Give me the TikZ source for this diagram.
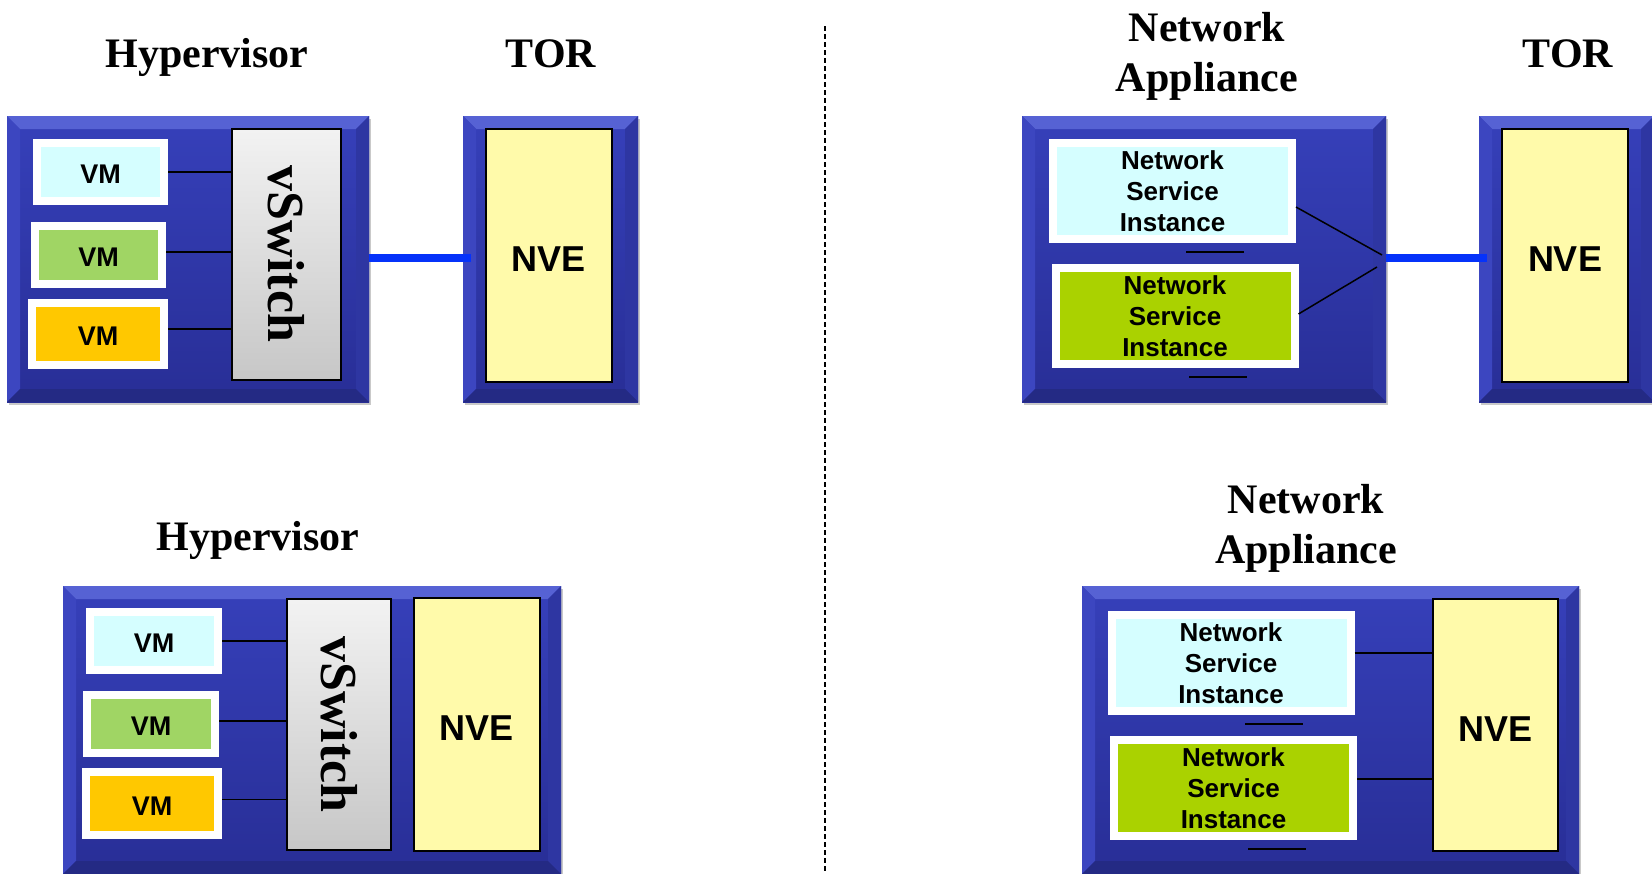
\documentclass[tikz,border=0pt]{standalone}
\usepackage{fontspec}
\setmainfont{Liberation Serif}
\setsansfont{Liberation Sans}
\usepackage{graphicx}
\usetikzlibrary{positioning,shadows,calc}

\definecolor{chassisblue}{RGB}{54,64,186}
\definecolor{chassisdark}{RGB}{40,46,150}
\definecolor{bevtop}{RGB}{86,98,212}
\definecolor{bevleft}{RGB}{60,70,192}
\definecolor{bevright}{RGB}{46,54,162}
\definecolor{bevbottom}{RGB}{36,42,132}
\definecolor{vmcyan}{RGB}{213,254,255}
\definecolor{vmgreen}{RGB}{160,213,100}
\definecolor{vmorange}{RGB}{255,200,0}
\definecolor{nsigreen}{RGB}{170,210,0}
\definecolor{nveyellow}{RGB}{255,250,170}
\definecolor{linkblue}{RGB}{5,50,250}

\tikzset{
  chassis/.style={top color=chassisblue, bottom color=chassisdark, inner sep=0pt,
    drop shadow={shadow xshift=2pt,shadow yshift=-3pt,opacity=0.35,fill=black!60},
    path picture={
      \coordinate (bnw) at (path picture bounding box.north west);
      \coordinate (bne) at (path picture bounding box.north east);
      \coordinate (bsw) at (path picture bounding box.south west);
      \coordinate (bse) at (path picture bounding box.south east);
      \fill[bevtop] (bnw) -- (bne) -- ([shift={(-13pt,-13pt)}]bne) -- ([shift={(13pt,-13pt)}]bnw) -- cycle;
      \fill[bevleft] (bnw) -- ([shift={(13pt,-13pt)}]bnw) -- ([shift={(13pt,13pt)}]bsw) -- (bsw) -- cycle;
      \fill[bevright] (bne) -- ([shift={(-13pt,-13pt)}]bne) -- ([shift={(-13pt,13pt)}]bse) -- (bse) -- cycle;
      \fill[bevbottom] (bsw) -- ([shift={(13pt,13pt)}]bsw) -- ([shift={(-13pt,13pt)}]bse) -- (bse) -- cycle;
    }},
  vm/.style={fill=#1, draw=white, line width=8pt, inner sep=0pt, text height=23pt,
    minimum width=127pt, minimum height=58pt,
    font=\sffamily\bfseries\fontsize{27}{30}\selectfont},
  nsi/.style={fill=#1, draw=white, line width=8pt, inner sep=0pt, align=center,
    minimum width=239pt, minimum height=96pt,
    font=\sffamily\bfseries\fontsize{26}{31}\selectfont},
  nve/.style={fill=nveyellow, draw=black, line width=2pt, inner sep=0pt, text height=32pt,
    minimum width=126pt, minimum height=253pt,
    font=\sffamily\bfseries\fontsize{36}{40}\selectfont},
  vswitch/.style={top color=black!5, bottom color=black!22, draw=black, line width=2pt, inner sep=0pt,
    minimum width=109pt, minimum height=251pt,
    font=\bfseries\fontsize{52}{56}\selectfont},
  title/.style={inner sep=0pt, align=center, font=\bfseries\fontsize{42}{50}\selectfont},
  wire/.style={line width=1.5pt},
  link/.style={linkblue, line width=8pt},
  divider/.style={line width=1.5pt, dash pattern=on 5pt off 3pt}
}

\begin{document}
\begin{tikzpicture}[x=1pt,y=-1pt]
\useasboundingbox[fill=white] (0,0) rectangle (1652,873);

\node[title, anchor=base] (hyptitle1) at (207,67) {Hypervisor};
\node[title, anchor=base] (tortitle1) at (551,67) {TOR};
\node[title, anchor=north] (apptitle1) at (1207,12) {Network\\Appliance};
\node[title, anchor=base] (tortitle2) at (1568,67) {TOR};
\node[title, anchor=base] (hyptitle2) at (258,550) {Hypervisor};
\node[title, anchor=north] (apptitle2) at (1306,484) {Network\\Appliance};

\draw[divider] (825,26) -- (825,873);

\node[chassis, minimum width=362pt, minimum height=286pt] (hyp1) at (188,259) {};
\node[vm=vmcyan] (vm11) at (100.5,172) {VM};
\node[vm=vmgreen] (vm12) at (98.5,255) {VM};
\node[vm=vmorange, minimum width=132pt, minimum height=62pt] (vm13) at (98,334) {VM};
\node[vswitch] (vsw1) at (286.5,254) {\rotatebox{-90}{vSwitch}};
\draw[wire] (vm11.east) -- (vm11.east -| vsw1.west);
\draw[wire] ([yshift=3pt]vm12.east) -- ([yshift=3pt]vm12.east -| vsw1.west);
\draw[wire] ([yshift=5pt]vm13.east) -- ([yshift=5pt]vm13.east -| vsw1.west);

\node[chassis, minimum width=175pt, minimum height=286pt] (tor1) at (550.5,259) {};
\node[nve] (nve1) at (549,255) {NVE};
\draw[link] ([yshift=1pt]hyp1.east) -- ([shift={(8pt,1pt)}]tor1.west);

\node[chassis, minimum width=364pt, minimum height=286pt] (app1) at (1204,259) {};
\node[nsi=vmcyan] (nsi11) at (1172.5,191) {Network\\Service\\Instance};
\node[nsi=nsigreen] (nsi12) at (1175,316) {Network\\Service\\Instance};
\coordinate (fan1) at (1382,255);
\coordinate (fan2) at (1377,267);
\draw[wire] ([yshift=-16pt]nsi11.east) -- (fan1);
\draw[wire] ([yshift=2pt]nsi12.east) -- (fan2);
\draw[wire] (1186,252) -- (1244,252);
\draw[wire] (1189,377) -- (1247,377);

\node[chassis, minimum width=175pt, minimum height=286pt] (tor2) at (1566.5,259) {};
\node[nve] (nve2) at (1565,255.5) {NVE};
\draw[link] ([yshift=1pt]app1.east) -- ([shift={(8pt,1pt)}]tor2.west);

\node[chassis, minimum width=498pt, minimum height=288pt] (hyp2) at (312,730) {};
\node[vm=vmcyan, minimum width=128pt] (vm21) at (154,641) {VM};
\node[vm=vmgreen, minimum width=128pt] (vm22) at (151,724) {VM};
\node[vm=vmorange, minimum width=132pt, minimum height=63pt] (vm23) at (152,803.5) {VM};
\node[vswitch, minimum width=104pt, minimum height=251pt] (vsw2) at (339,724.5) {\rotatebox{-90}{vSwitch}};
\node[nve] (nve3) at (477,724.5) {NVE};
\draw[wire] (vm21.east) -- (vm21.east -| vsw2.west);
\draw[wire] ([yshift=3pt]vm22.east) -- ([yshift=3pt]vm22.east -| vsw2.west);
\draw[wire] ([yshift=4pt]vm23.east) -- ([yshift=4pt]vm23.east -| vsw2.west);

\node[chassis, minimum width=497pt, minimum height=288pt] (app2) at (1330.5,730) {};
\node[nsi=vmcyan] (nsi21) at (1231,663) {Network\\Service\\Instance};
\node[nsi=nsigreen] (nsi22) at (1233.5,788) {Network\\Service\\Instance};
\node[nve, minimum width=125pt, minimum height=252pt] (nve4) at (1495.5,725) {NVE};
\draw[wire] ([yshift=10pt]nsi21.east) -- ([yshift=10pt]nsi21.east -| nve4.west);
\draw[wire] ([yshift=9pt]nsi22.east) -- ([yshift=9pt]nsi22.east -| nve4.west);
\draw[wire] (1245,724) -- (1303,724);
\draw[wire] (1248,849) -- (1306,849);
\end{tikzpicture}
\end{document}
